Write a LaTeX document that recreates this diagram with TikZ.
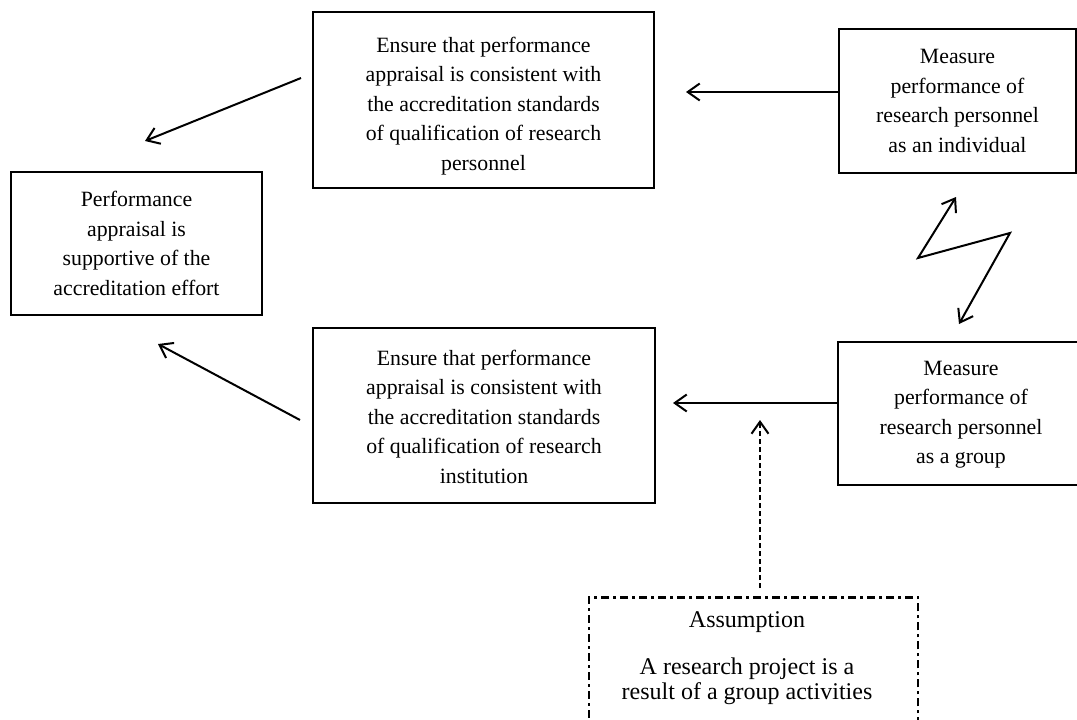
\documentclass[tikz,border=0pt]{standalone}
\usepackage{fontspec}
\setmainfont{Liberation Serif}
\usetikzlibrary{arrows.meta}
\begin{document}
\begin{tikzpicture}[x=1pt,y=-1pt,
  box/.style={draw, line width=2pt, inner sep=0pt},
  txt/.style={align=center, font=\fontsize{21.8}{29.5}\selectfont, inner sep=0pt},
  ftxt/.style={align=center, font=\fontsize{24}{24.5}\selectfont, inner sep=0pt},
  barb/.tip={Straight Barb[length=12pt,width=17pt,line width=2pt]},
  arr/.style={line width=2pt, -barb},
  dblarr/.style={line width=2pt, barb-barb},
  dasharr/.style={line width=1.8pt, dash pattern=on 5pt off 3pt, -barb},
  dashdotbox/.style={draw, line width=2.6pt, dash pattern=on 8pt off 4pt on 3pt off 4pt, inner sep=0pt}
]
\path[use as bounding box] (0,0) rectangle (1077,720);
\clip (0,0) rectangle (1077,720);

% boxes
\node[box, minimum width=251pt, minimum height=143pt] (A) at (136.5,243.5) {};
\node[txt] (At) at (A.center) {Performance\\appraisal is\\supportive of the\\accreditation effort};

\node[box, minimum width=341pt, minimum height=176pt] (B) at (483.5,100) {};
\node[txt] (Bt) at ([yshift=-6pt]B.center) {Ensure that performance\\appraisal is consistent with\\the accreditation standards\\of qualification of research\\personnel};

\node[box, minimum width=237pt, minimum height=144pt] (C) at (957.5,101) {};
\node[txt] (Ct) at (C.center) {Measure\\performance of\\research personnel\\as an individual};

\node[box, minimum width=342pt, minimum height=175pt] (D) at (484,415.5) {};
\node[txt] (Dt) at ([yshift=-1pt]D.center) {Ensure that performance\\appraisal is consistent with\\the accreditation standards\\of qualification of research\\institution};

\node[box, minimum width=246pt, minimum height=143pt] (E) at (961,413.5) {};
\node[txt] (Et) at ([yshift=-1pt]E.center) {Measure\\performance of\\research personnel\\as a group};

\node[dashdotbox, minimum width=329pt, minimum height=160pt, anchor=north] (F) at (753.5,596) {};
\node[ftxt] (Ft) at (747,658) {Assumption\\[23pt]A research project is a\\result of a group activities};

% connector end points
\coordinate (bStart) at ([xshift=-11pt,yshift=22pt]B.west);
\coordinate (bTip) at ([xshift=8.5pt,yshift=30pt]A.north);
\coordinate (dStart) at ([xshift=-12pt,yshift=-4.5pt]D.west);
\coordinate (dTip) at ([xshift=21.5pt,yshift=-28pt]A.south);
\coordinate (cTip) at ([xshift=31pt,yshift=8pt]B.east);
\coordinate (eTip) at ([xshift=17pt,yshift=12.5pt]D.east);
\coordinate (zTop) at ([xshift=-1.5pt,yshift=-23pt]C.south);
\coordinate (z1) at (918,258);
\coordinate (z2) at (1010,233);
\coordinate (zBot) at ([xshift=-2pt,yshift=17pt]E.north);
\coordinate (fStart) at ([xshift=6.5pt,yshift=8pt]F.north);
\coordinate (fTip) at (760,420);

% connectors
\draw[arr] (bStart) -- (bTip);
\draw[arr] (dStart) -- (dTip);
\draw[arr] ([yshift=9pt]C.west) -- (cTip);
\draw[arr] ([yshift=10.5pt]E.west) -- (eTip);
\draw[dblarr] (zTop) -- (z1) -- (z2) -- (zBot);
\draw[dasharr] (fStart) -- (fTip);
\end{tikzpicture}
\end{document}
